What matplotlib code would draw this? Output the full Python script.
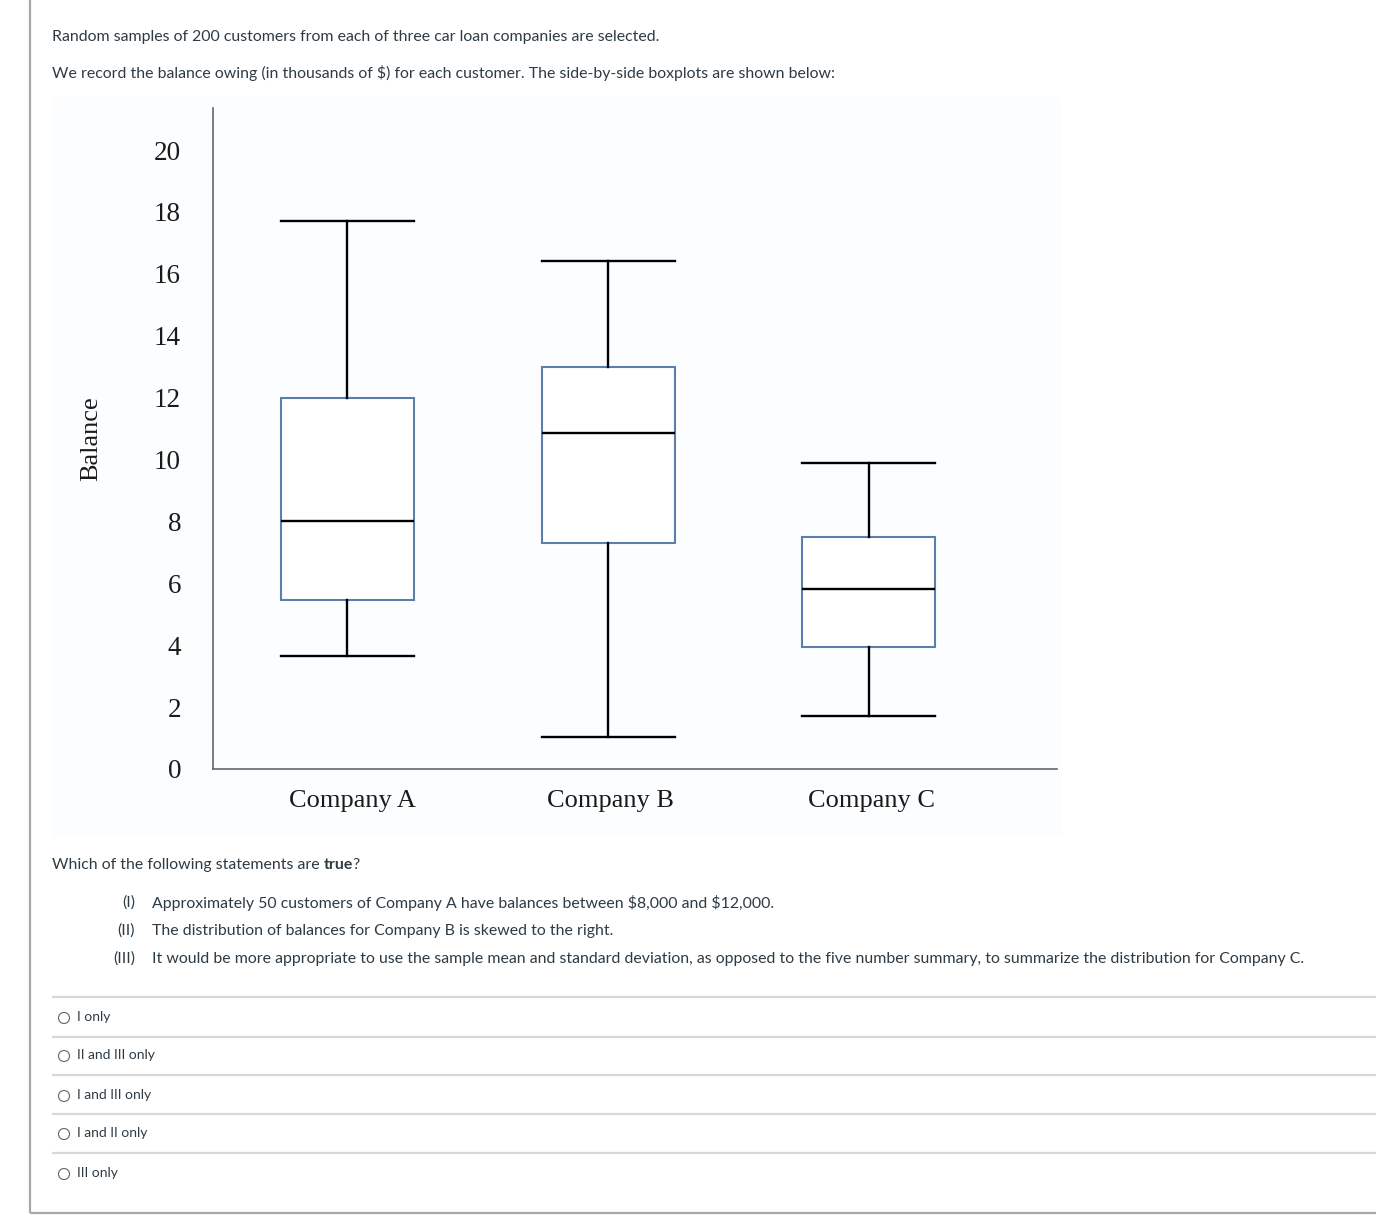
import matplotlib
matplotlib.use("Agg")
import matplotlib.pyplot as plt
from matplotlib.patches import Rectangle, Circle

# ---------------- data ----------------
companies = ["Company A", "Company B", "Company C"]
whisker_low = [3.65, 1.05, 1.70]
q1 = [5.45, 7.30, 3.95]
median = [8.00, 10.85, 5.80]
q3 = [12.00, 13.00, 7.50]
whisker_high = [17.70, 16.40, 9.90]
y_ticks = [0, 2, 4, 6, 8, 10, 12, 14, 16, 18, 20]

intro_lines = [
    "Random samples of 200 customers from each of three car loan companies are selected.",
    "We record the balance owing (in thousands of \\$) for each customer. The side-by-side boxplots are shown below:",
]
statement_nums = ["(I)", "(II)", "(III)"]
statements = [
    "Approximately 50 customers of Company A have balances between \\$8,000 and \\$12,000.",
    "The distribution of balances for Company B is skewed to the right.",
    "It would be more appropriate to use the sample mean and standard deviation, as opposed to the five number summary, to summarize the distribution for Company C.",
]
options = ["I only", "II and III only", "I and III only", "I and II only", "III only"]

# ---------------- figure ----------------
W, H = 1376, 1216
fig = plt.figure(figsize=(W / 100, H / 100), dpi=100)
fig.patch.set_facecolor("white")

bg = fig.add_axes([0, 0, 1, 1])
bg.set_xlim(0, W)
bg.set_ylim(H, 0)
bg.axis("off")

TXT = "#2d3b45"
SANS = ["Lato", "DejaVu Sans"]
FS = 11.42

# page frame
bg.plot([30, 30], [0, 1213], color="#a8a8a8", lw=1.6, solid_capstyle="butt")
bg.plot([30, W], [1213, 1213], color="#a8a8a8", lw=1.6, solid_capstyle="butt")

# intro text
bg.text(52, 37, intro_lines[0], fontsize=FS, family=SANS, color=TXT, va="center", ha="left")
bg.text(52, 73, intro_lines[1], fontsize=FS, family=SANS, color=TXT, va="center", ha="left")

# faint image panel
bg.add_patch(Rectangle((52, 97), 1010, 740, facecolor="#fcfdfe", edgecolor="none", zorder=0))

# question text with bold "true"
t1 = bg.text(52, 865, "Which of the following statements are ", fontsize=FS, family=SANS,
             color=TXT, va="center", ha="left")
fig.canvas.draw()
r = fig.canvas.get_renderer()
bb = t1.get_window_extent(renderer=r)
t2 = bg.text(bb.x1, H - 865, "true", fontsize=FS, family=SANS, weight="bold", color=TXT,
             va="center", ha="left", transform=None)
fig.canvas.draw()
bb2 = t2.get_window_extent(renderer=r)
bg.text(bb2.x1 - 1, H - 865, "?", fontsize=FS, family=SANS, color=TXT, va="center", ha="left",
        transform=None)

# statements
for i, (num, s) in enumerate(zip(statement_nums, statements)):
    y = 903 + 28 * i
    bg.text(135, y, num, fontsize=FS, family=SANS, color=TXT, va="center", ha="right")
    bg.text(152, y, s, fontsize=FS, family=SANS, color=TXT, va="center", ha="left")

# options
sep_y = [997, 1037, 1075, 1114, 1153]
opt_y = [1018, 1056, 1096, 1134, 1174]
for yy in sep_y:
    bg.plot([52, W], [yy, yy], color="#d8d8d8", lw=1.6, solid_capstyle="butt")
for yy, o in zip(opt_y, options):
    bg.add_patch(Circle((64, yy), 5.5, facecolor="white", edgecolor="#666666", lw=0.8))
    bg.text(77, yy - 1, o, fontsize=10.0, family=SANS, color=TXT, va="center", ha="left")

# ---------------- boxplot chart ----------------
x0, x1 = 213, 1057
y_bottom, y_top = 769, 108
ax = fig.add_axes([x0 / W, 1 - y_bottom / H, (x1 - x0) / W, (y_bottom - y_top) / H])
ax.patch.set_alpha(0)

stats = []
for i, c in enumerate(companies):
    stats.append(dict(label=c, whislo=whisker_low[i], q1=q1[i], med=median[i],
                      q3=q3[i], whishi=whisker_high[i], fliers=[]))

ax.bxp(stats, positions=[1, 2, 3], widths=0.51, showfliers=False, patch_artist=True,
       boxprops=dict(facecolor="white", edgecolor="#5a7fab", linewidth=1.5),
       medianprops=dict(color="black", linewidth=1.7),
       whiskerprops=dict(color="black", linewidth=1.7),
       capprops=dict(color="black", linewidth=1.7),
       capwidths=0.51)

ax.set_xlim(0.485, 3.721)
ax.set_ylim(0, (y_bottom - y_top) / 30.95)

serif = ["Liberation Serif", "DejaVu Serif"]
ax.set_yticks(y_ticks)
ax.set_yticklabels([str(v) for v in y_ticks], fontsize=19.5, family=serif, color="#1a1a1a")
ax.set_xticks([1.02, 2.01, 3.01])
ax.set_xticklabels(companies, fontsize=19, family=serif, color="#1a1a1a")
ax.tick_params(axis="y", length=0, pad=23)
ax.tick_params(axis="x", length=0, pad=15)
ax.set_ylabel("Balance", fontsize=19, family=serif, color="#1a1a1a", labelpad=37)

for side in ["top", "right"]:
    ax.spines[side].set_visible(False)
for side in ["left", "bottom"]:
    ax.spines[side].set_color("#666666")
    ax.spines[side].set_linewidth(1.2)

fig.savefig("out.png", dpi=100)
